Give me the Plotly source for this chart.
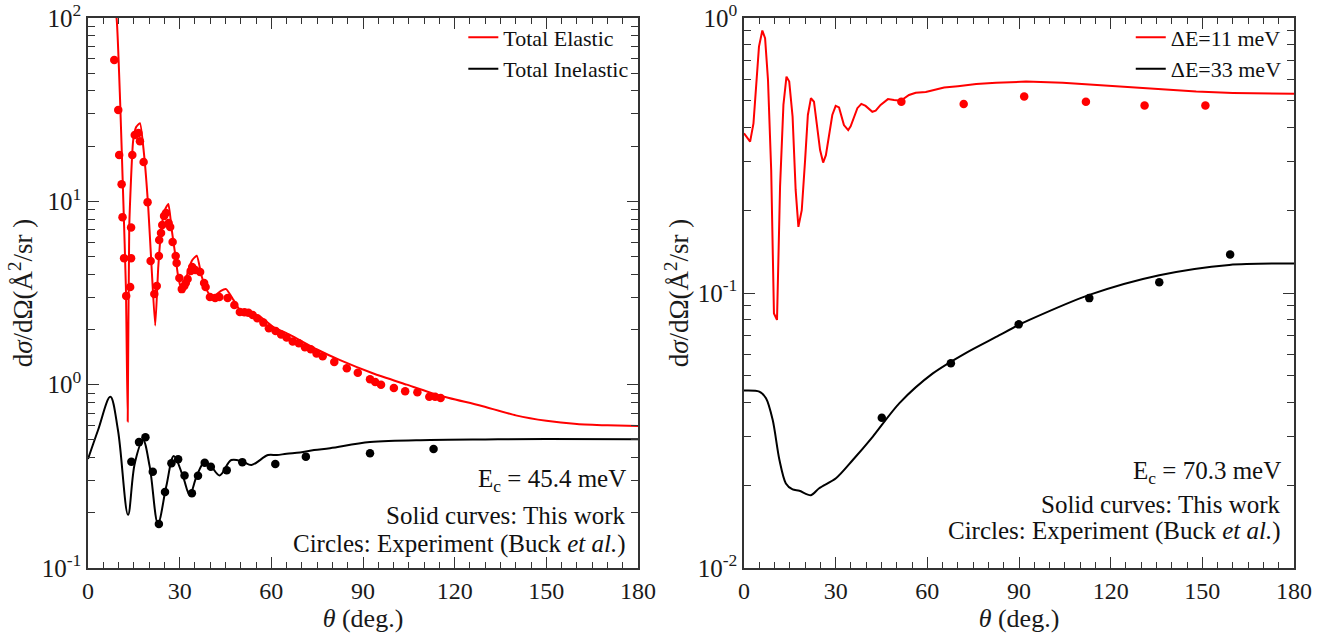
import plotly.graph_objects as go

# ---------------- Left panel (Ec = 45.4 meV) ----------------
el_curve_theta = [8.3, 9.4, 10.5, 11.55, 12.4, 13.0, 13.5, 14.8, 15.8, 17.0, 18.3, 19.7, 20.8, 22.0,
                  23.0, 24.1, 25.2, 26.3, 27.4, 28.5, 29.6, 30.7, 31.8, 32.8, 34.2, 35.6, 37.2, 38.8,
                  40.5, 42.0, 43.5, 45.2, 47.6, 49.7, 53.0, 56.3, 60.6, 66.1, 74.8, 82.5, 93.4, 104.3,
                  115.2, 128.3, 140, 150, 160, 170, 180]
el_curve_val = [130, 98, 35.7, 10.2, 3.4, 0.63, 7.3, 21.6, 25.5, 26.7, 18.3, 9.35, 4.4, 2.1,
                4.4, 7.3, 9.0, 9.67, 7.0, 5.2, 3.8, 3.3, 3.6, 4.2, 4.8, 5.05, 3.9, 3.3,
                3.0, 3.1, 3.25, 3.32, 2.9, 2.55, 2.45, 2.35, 2.07, 1.87, 1.56, 1.36, 1.15, 1.0,
                0.87, 0.77, 0.68, 0.635, 0.61, 0.60, 0.595]

inel_curve_theta = [0, 3.3, 7.3, 9.8, 13.1, 15.3, 18.0, 20.2, 22.9, 25.6, 28.1, 31.1, 33.3, 35.5,
                    38.2, 40.4, 43.1, 46.9, 50.7, 53.5, 58.9, 61.8, 65, 69.4, 74, 79.2, 92.3, 112,
                    130, 150, 180]
inel_curve_val = [0.393, 0.566, 0.859, 0.566, 0.195, 0.372, 0.499, 0.357, 0.175, 0.278, 0.408, 0.315,
                  0.25, 0.315, 0.38, 0.357, 0.32, 0.388, 0.38, 0.365, 0.413, 0.413, 0.42, 0.426,
                  0.44, 0.45, 0.486, 0.499, 0.503, 0.505, 0.504]

el_exp_theta = [8.6, 9.9, 10.2, 11.0, 11.3, 11.8, 12.5, 13.8, 14.1, 14.1, 14.5, 15.3, 16.5, 17.0,
                18.2, 19.5, 20.5, 21.7, 22.5, 23.2, 23.3, 23.9, 24.3, 24.9, 25.5, 26.4, 26.9, 27.7,
                28.7, 29.0, 29.9, 30.7, 31.5, 32.0, 32.6, 33.6, 34.1, 35.1, 36.7, 38.0, 38.5, 39.9,
                41.6, 43.0, 45.7, 47.9, 49.7, 51.2, 52.5, 53.9, 55.4, 57.4, 59.2, 61.4, 63.2, 65.0,
                67.0, 69.0, 71.0, 72.9, 74.8, 76.8, 80.6, 84.7, 88.3, 92.3, 94.0, 95.9, 100.1,
                103.8, 107.8, 111.7, 113.6, 115.4]
el_exp_val = [59, 31.5, 17.9, 12.4, 8.2, 4.9, 3.05, 3.41, 4.9, 7.2, 17.9, 23.0, 23.6, 21.3,
              16.4, 9.9, 4.73, 3.12, 3.45, 5.03, 6.15, 6.72, 7.43, 8.32, 8.64, 7.62, 7.24, 6.0,
              5.03, 4.61, 3.82, 3.32, 3.45, 3.59, 3.77, 4.17, 4.38, 4.22, 4.12, 3.59, 3.41, 3.01,
              2.97, 3.01, 2.97, 2.72, 2.49, 2.48, 2.47, 2.40, 2.30, 2.18, 2.03, 1.96, 1.88, 1.81,
              1.72, 1.68, 1.60, 1.56, 1.48, 1.43, 1.33, 1.23, 1.16, 1.07, 1.035, 1.0, 0.96,
              0.92, 0.91, 0.86, 0.86, 0.845]

inel_exp_theta = [14.2, 16.7, 18.8, 21.2, 23.2, 25.2, 27.3, 29.5, 31.6, 34.0, 36.0, 38.2, 40.2,
                  45.4, 50.5, 61.3, 71.3, 92.3, 113.1]
inel_exp_val = [0.38, 0.486, 0.516, 0.335, 0.174, 0.26, 0.373, 0.392, 0.32, 0.256, 0.319, 0.375,
                0.357, 0.341, 0.378, 0.369, 0.405, 0.422, 0.446]

# ---------------- Right panel (Ec = 70.3 meV) ----------------
de11_curve_theta = [0, 2.0, 3.1, 4.9, 6.0, 6.9, 7.85, 8.9, 9.8, 10.8, 11.8, 12.9, 13.9, 14.8, 15.9,
                    16.9, 17.8, 18.9, 20.0, 20.9, 21.9, 22.9, 24.9, 25.9, 26.8, 28.9, 30.0, 31.1,
                    32.7, 34.1, 34.9, 37.1, 38.4, 39.8, 42.0, 43.1, 44.7, 47.1, 49.1, 51.3, 54.0,
                    56.2, 59.5, 62.7, 65.5, 70, 76, 82.5, 92.3, 104.3, 115, 126, 137, 148, 160,
                    170, 180]
de11_curve_val = [0.381, 0.355, 0.414, 0.787, 0.90, 0.844, 0.595, 0.28, 0.0843, 0.0798, 0.244,
                  0.483, 0.612, 0.587, 0.438, 0.237, 0.174, 0.2, 0.305, 0.444, 0.511, 0.496,
                  0.331, 0.298, 0.317, 0.444, 0.479, 0.473, 0.408, 0.391, 0.404, 0.47, 0.487,
                  0.479, 0.456, 0.46, 0.483, 0.507, 0.503, 0.5, 0.525, 0.535, 0.538, 0.551, 0.559,
                  0.565, 0.575, 0.582, 0.587, 0.582, 0.572, 0.56, 0.549, 0.54, 0.534, 0.531, 0.53]

de33_curve_theta = [0, 5.0, 7.2, 9.4, 11.6, 13.7, 15.9, 18.1, 21.9, 24.6, 30.1, 35.6, 42.1, 50.8,
                    61.8, 72.7, 82.5, 89.6, 93.4, 113, 135.9, 158.8, 180]
de33_curve_val = [0.0442, 0.0438, 0.0414, 0.0345, 0.0247, 0.0203, 0.0193, 0.0191, 0.0184, 0.0195,
                  0.0212, 0.0247, 0.030, 0.0397, 0.051, 0.0606, 0.0692, 0.0762, 0.0798, 0.0984,
                  0.116, 0.1265, 0.128]

de11_exp_theta = [51.5, 71.9, 91.7, 111.9, 131.1, 151.0]
de11_exp_val = [0.496, 0.487, 0.518, 0.496, 0.481, 0.481]

de33_exp_theta = [45.1, 67.7, 89.9, 113.0, 135.9, 159.1]
de33_exp_val = [0.0352, 0.0555, 0.0769, 0.0958, 0.1094, 0.138]

x_ticks = [0, 30, 60, 90, 120, 150, 180]
left_y_ticks = [0.1, 1, 10, 100]
left_y_labels = ["10<sup>-1</sup>", "10<sup>0</sup>", "10<sup>1</sup>", "10<sup>2</sup>"]
right_y_ticks = [0.01, 0.1, 1]
right_y_labels = ["10<sup>-2</sup>", "10<sup>-1</sup>", "10<sup>0</sup>"]

RED = "#ff0000"
BLACK = "#000000"
FONT = "Liberation Serif"

fig = go.Figure()

# left panel
fig.add_trace(go.Scatter(x=el_curve_theta, y=el_curve_val, mode="lines", name="Total Elastic",
                         line=dict(color=RED, width=2, shape="spline", smoothing=0.5),
                         xaxis="x", yaxis="y", legend="legend"))
fig.add_trace(go.Scatter(x=inel_curve_theta, y=inel_curve_val, mode="lines", name="Total Inelastic",
                         line=dict(color=BLACK, width=2, shape="spline", smoothing=1.0),
                         xaxis="x", yaxis="y", legend="legend"))
fig.add_trace(go.Scatter(x=el_exp_theta, y=el_exp_val, mode="markers", showlegend=False,
                         marker=dict(color=RED, size=8.5), xaxis="x", yaxis="y"))
fig.add_trace(go.Scatter(x=inel_exp_theta, y=inel_exp_val, mode="markers", showlegend=False,
                         marker=dict(color=BLACK, size=8.5), xaxis="x", yaxis="y"))

# right panel
fig.add_trace(go.Scatter(x=de11_curve_theta, y=de11_curve_val, mode="lines", name="ΔE=11 meV",
                         line=dict(color=RED, width=2),
                         xaxis="x2", yaxis="y2", legend="legend2"))
fig.add_trace(go.Scatter(x=de33_curve_theta, y=de33_curve_val, mode="lines", name="ΔE=33 meV",
                         line=dict(color=BLACK, width=2, shape="spline", smoothing=0.8),
                         xaxis="x2", yaxis="y2", legend="legend2"))
fig.add_trace(go.Scatter(x=de11_exp_theta, y=de11_exp_val, mode="markers", showlegend=False,
                         marker=dict(color=RED, size=8.5), xaxis="x2", yaxis="y2"))
fig.add_trace(go.Scatter(x=de33_exp_theta, y=de33_exp_val, mode="markers", showlegend=False,
                         marker=dict(color=BLACK, size=8.5), xaxis="x2", yaxis="y2"))

AXCOL = "#333333"
TXTCOL = "#1a1a1a"
minor_x = dict(ticks="inside", ticklen=6, tickcolor=AXCOL, dtick=5, showgrid=False)
minor_y_vals = []
for dec in [0.01, 0.1, 1, 10]:
    for k in range(2, 10):
        minor_y_vals.append(dec * k)
minor_y = dict(ticks="inside", ticklen=7, tickcolor=AXCOL, tickvals=minor_y_vals, showgrid=False)

xcommon = dict(range=[0, 180], tickvals=x_ticks, ticks="inside", ticklen=11, tickwidth=1.3,
               tickcolor=AXCOL, showline=True, linecolor=AXCOL, linewidth=1.5, mirror="allticks",
               showgrid=False, zeroline=False, minor=minor_x, automargin=False,
               ticklabeloverflow="allow",
               tickfont=dict(family=FONT, size=24, color=TXTCOL),
               title=dict(text="<i>θ</i> (deg.)", font=dict(family=FONT, size=26, color=TXTCOL),
                          standoff=3))
ycommon = dict(type="log", ticks="inside", ticklen=11, tickwidth=1.3, tickcolor=AXCOL,
               showline=True, linecolor=AXCOL, linewidth=1.5, mirror="allticks", showgrid=False,
               zeroline=False, minor=minor_y, automargin=False, ticklabeloverflow="allow",
               tickfont=dict(family=FONT, size=25, color=TXTCOL),
               title=dict(text="d<i>σ</i>/dΩ(Å<sup>2</sup>/sr )",
                          font=dict(family=FONT, size=27, color=TXTCOL), standoff=1))

fig.update_layout(
    width=1332, height=638,
    margin=dict(l=88, r=38, t=18, b=70),
    paper_bgcolor="white", plot_bgcolor="white",
    xaxis=dict(domain=[0, 0.45605], anchor="y", **xcommon),
    yaxis=dict(domain=[0, 1], anchor="x", range=[-1, 2], tickvals=left_y_ticks,
               ticktext=left_y_labels, **ycommon),
    xaxis2=dict(domain=[0.54395, 1], anchor="y2", **xcommon),
    yaxis2=dict(domain=[0, 1], anchor="x2", range=[-2, 0], tickvals=right_y_ticks,
                ticktext=right_y_labels, **ycommon),
    legend=dict(x=0.453, xanchor="right", y=1.003, yanchor="top", bgcolor="rgba(0,0,0,0)",
                font=dict(family=FONT, size=22, color="#111"), itemwidth=30,
                tracegroupgap=0),
    legend2=dict(x=0.994, xanchor="right", y=1.003, yanchor="top", bgcolor="rgba(0,0,0,0)",
                 font=dict(family=FONT, size=22, color="#111"), itemwidth=30,
                 tracegroupgap=0),
    showlegend=True,
)

ann_font = dict(family=FONT, size=25, color="#111")
left_notes = [("E<sub>c</sub> = 45.4 meV", 0.16), ("Solid curves: This work", 0.095),
              ("Circles: Experiment (Buck <i>et al.</i>)", 0.043)]
right_notes = [("E<sub>c</sub> = 70.3 meV", 0.174), ("Solid curves: This work", 0.115),
               ("Circles: Experiment (Buck <i>et al.</i>)", 0.068)]
for txt, yy in left_notes:
    fig.add_annotation(text=txt, xref="x domain", yref="y domain", x=0.982, y=yy,
                       xanchor="right", yanchor="middle", showarrow=False, font=ann_font)
for txt, yy in right_notes:
    fig.add_annotation(text=txt, xref="x2 domain", yref="y2 domain", x=0.98, y=yy,
                       xanchor="right", yanchor="middle", showarrow=False, font=ann_font)

# remove the default page margin so the figure sits at the window's top-left corner
fig.write_html("out.html", config={"displayModeBar": False},
               post_script="document.body.style.margin='0px';")
